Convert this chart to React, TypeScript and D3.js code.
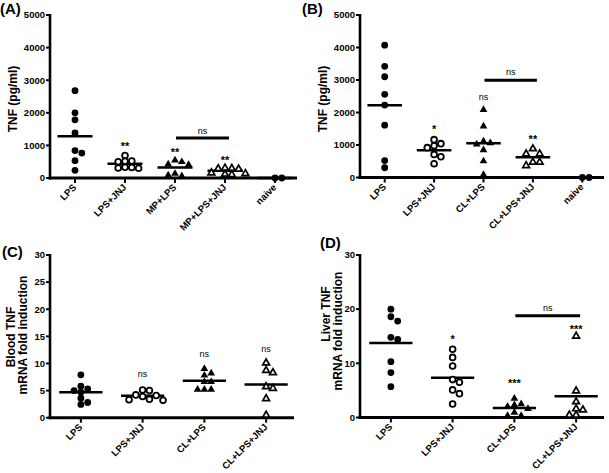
import React from "react";
import * as d3 from "d3";

const W = 609;
const H = 473;
const FONT = "'Liberation Sans', Arial, Helvetica, sans-serif";

// ---------- Panel A ----------
const catsA = ["LPS", "LPS+JNJ", "MP+LPS", "MP+LPS+JNJ", "naive"];
const lpsA = [2680, 1785, 2000, 1380, 840, 765, 530, 235];
const lpsJnjA = [690, 520, 510, 500, 330, 320, 310, 300];
const mpLpsA = [560, 510, 440, 420, 150, 80, 100];
const mpLpsJnjA = [320, 310, 300, 290, 170, 150, 130, 120];
const naiveA = [0, 0];
const ticksA = [0, 1000, 2000, 3000, 4000, 5000];
const marksA = [
  { cat: "LPS+JNJ", label: "**", at: 1050 },
  { cat: "MP+LPS", label: "**", at: 850 },
  { cat: "MP+LPS+JNJ", label: "**", at: 610 },
];
const barA = { from: "MP+LPS", to: "MP+LPS+JNJ", at: 1225, labelAt: 1437, label: "ns" };

// ---------- Panel B ----------
const catsB = ["LPS", "LPS+JNJ", "CL+LPS", "CL+LPS+JNJ", "naive"];
const lpsB = [4070, 3420, 3100, 2560, 2230, 1610, 520, 300];
const lpsJnjB = [1165, 1041, 979, 918, 711, 639, 423];
const clLpsB = [2100, 1590, 1130, 1080, 1040, 860, 520, 100];
const clLpsJnjB = [900, 742, 742, 485, 485, 381];
const naiveB = [0, 0];
const ticksB = [0, 1000, 2000, 3000, 4000, 5000];
const marksB = [
  { cat: "LPS+JNJ", label: "*", at: 1567 },
  { cat: "CL+LPS", label: "ns", at: 2474 },
  { cat: "CL+LPS+JNJ", label: "**", at: 1237 },
];
const barB = { from: "CL+LPS", to: "CL+LPS+JNJ", at: 2990, labelAt: 3216, label: "ns" };

// ---------- Panel C ----------
const catsC = ["LPS", "LPS+JNJ", "CL+LPS", "CL+LPS+JNJ"];
const lpsC = [7.9, 5.8, 5.3, 5.0, 4.7, 3.6, 2.8, 2.45];
const lpsJnjC = [5.1, 5.0, 4.2, 4.1, 3.9, 3.4, 3.3, 3.2];
const clLpsC = [9.1, 8.3, 7.9, 6.7, 6.7, 5.3, 5.3, 5.3];
const clLpsJnjC = [10.2, 8.8, 8.4, 5.8, 5.5, 3.6, 0.55];
const ticksC = [0, 5, 10, 15, 20, 25, 30];
const marksC = [
  { cat: "LPS+JNJ", label: "ns", at: 7.9 },
  { cat: "CL+LPS", label: "ns", at: 11.6 },
  { cat: "CL+LPS+JNJ", label: "ns", at: 12.5 },
];

// ---------- Panel D ----------
const catsD = ["LPS", "LPS+JNJ", "CL+LPS", "CL+LPS+JNJ"];
const lpsD = [20.0, 18.6, 17.8, 14.8, 14.4, 10.3, 8.3, 5.7];
const lpsJnjD = [12.6, 11.1, 9.5, 7.0, 6.5, 5.1, 4.4, 2.5];
const clLpsD = [3.6, 2.6, 2.4, 2.1, 1.7, 1.0, 0.4, 0.4];
const clLpsJnjD = [15.1, 5.0, 3.0, 1.7, 1.5, 0.55, 0.55];
const ticksD = [0, 10, 20, 30];
const marksD = [
  { cat: "LPS+JNJ", label: "*", at: 14.8 },
  { cat: "CL+LPS", label: "***", at: 6.7 },
  { cat: "CL+LPS+JNJ", label: "***", at: 16.7 },
];
const barD = { from: "CL+LPS", to: "CL+LPS+JNJ", at: 18.8, labelAt: 20.1, label: "ns" };

const shapes5 = ["circle", "openCircle", "triangle", "openTriangle", "circle"];
const shapes4 = ["circle", "openCircle", "triangle", "openTriangle"];

type Mark = { cat: string; label: string; at: number };
type Bar = { from: string; to: string; at: number; labelAt: number; label: string };

type PanelProps = {
  letter: string;
  letterX: number;
  letterY: number;
  titleLines: { text: string; x: number; y: number }[];
  cats: string[];
  groups: number[][];
  shapes: string[];
  ticks: number[];
  yMax: number;
  x0: number;
  x1: number;
  yTop: number;
  yBottom: number;
  marks: Mark[];
  bar?: Bar;
};

const D = 6.8; // marker spacing

function dodge(vals: number[], y: (v: number) => number) {
  const placed: { x: number; y: number }[] = [];
  return vals.map((v) => {
    const py = y(v);
    const cands = [0, 1, -1, 2, -2, 3, -3];
    for (const k of cands) {
      const px = k * D;
      if (placed.every((p) => Math.hypot(p.x - px, p.y - py) >= D * 0.85)) {
        placed.push({ x: px, y: py });
        return { v, dx: px, y: py };
      }
    }
    placed.push({ x: 0, y: py });
    return { v, dx: 0, y: py };
  });
}

const triFilled = d3.symbol().type(d3.symbolTriangle).size(26)() as string;
const triOpen = d3.symbol().type(d3.symbolTriangle).size(20)() as string;

function Marker({ shape, x, y }: { shape: string; x: number; y: number }) {
  if (shape === "circle") return <circle cx={x} cy={y} r={3.4} fill="#000" />;
  if (shape === "openCircle")
    return <circle cx={x} cy={y} r={2.9} fill="#fff" stroke="#000" strokeWidth={1.8} />;
  if (shape === "triangle") return <path d={triFilled} transform={`translate(${x},${y + 0.5})`} fill="#000" />;
  return (
    <path d={triOpen} transform={`translate(${x},${y + 0.5})`} fill="#fff" stroke="#000" strokeWidth={1.7} />
  );
}

function Panel(p: PanelProps) {
  const x = d3.scaleBand<string>().domain(p.cats).range([p.x0, p.x1]).paddingInner(0).paddingOuter(0);
  const y = d3.scaleLinear().domain([0, p.yMax]).range([p.yBottom, p.yTop]);
  const bw = x.bandwidth();
  const cx = (c: string) => (x(c) as number) + bw / 2;
  const half = bw * 0.35;

  return (
    <g fontFamily={FONT}>
      <text x={p.letterX} y={p.letterY} fontSize={15} fontWeight="bold">
        {p.letter}
      </text>
      {p.titleLines.map((t, i) => (
        <text
          key={i}
          transform={`translate(${t.x},${t.y}) rotate(-90)`}
          textAnchor="middle"
          fontSize={12}
          fontWeight="bold"
        >
          {t.text}
        </text>
      ))}
      {/* y axis */}
      <line x1={p.x0} x2={p.x0} y1={p.yTop - 1} y2={p.yBottom + 1.5} stroke="#000" strokeWidth={2.6} />
      {p.ticks.map((t) => (
        <g key={t}>
          <line x1={p.x0 - 4} x2={p.x0} y1={y(t)} y2={y(t)} stroke="#000" strokeWidth={2} />
          <text x={p.x0 - 5} y={y(t)} dy="0.35em" textAnchor="end" fontSize={9.5} fontWeight="bold">
            {t}
          </text>
        </g>
      ))}
      {/* x axis */}
      <line x1={p.x0 - 1.3} x2={p.x1 - 3} y1={p.yBottom} y2={p.yBottom} stroke="#000" strokeWidth={3} />
      {p.cats.map((c) => (
        <g key={c}>
          <line x1={cx(c)} x2={cx(c)} y1={p.yBottom} y2={p.yBottom + 5} stroke="#000" strokeWidth={2} />
          <text
            transform={`translate(${cx(c) + 2},${p.yBottom + 10}) rotate(-45)`}
            textAnchor="end"
            fontSize={9.5}
            fontWeight="bold"
          >
            {c}
          </text>
        </g>
      ))}
      {/* groups */}
      {p.cats.map((c, gi) => {
        const vals = p.groups[gi];
        const m = d3.mean(vals) as number;
        const pts = dodge(vals, y);
        return (
          <g key={c}>
            <line x1={cx(c) - half} x2={cx(c) + half} y1={y(m)} y2={y(m)} stroke="#000" strokeWidth={2.5} />
            {pts.map((pt, i) => (
              <Marker key={i} shape={p.shapes[gi]} x={cx(c) + pt.dx} y={pt.y} />
            ))}
          </g>
        );
      })}
      {/* significance marks */}
      {p.marks.map((mk, i) => {
        const isStar = mk.label.includes("*");
        const fs = isStar ? 11 : 9;
        return (
          <text
            key={i}
            x={cx(mk.cat)}
            y={y(mk.at) + (isStar ? 0.56 : 0.27) * fs}
            textAnchor="middle"
            fontSize={fs}
            fontWeight={isStar ? "bold" : "normal"}
          >
            {mk.label}
          </text>
        );
      })}
      {p.bar && (
        <g>
          <line
            x1={cx(p.bar.from) + 1}
            x2={cx(p.bar.to) + 4}
            y1={y(p.bar.at)}
            y2={y(p.bar.at)}
            stroke="#000"
            strokeWidth={3}
          />
          <text
            x={(cx(p.bar.from) + 1 + cx(p.bar.to) + 4) / 2}
            y={y(p.bar.labelAt) + 0.27 * 9}
            textAnchor="middle"
            fontSize={9}
          >
            {p.bar.label}
          </text>
        </g>
      )}
    </g>
  );
}

export default function App() {
  return (
    <svg
      width={W}
      height={H}
      viewBox={`0 0 ${W} ${H}`}
      style={{ position: "absolute", left: 0, top: 0, background: "#fff" }}
    >
      <rect width={W} height={H} fill="#fff" />
      <Panel
        letter="(A)"
        letterX={0}
        letterY={14}
        titleLines={[{ text: "TNF (pg/ml)", x: 17, y: 99 }]}
        cats={catsA}
        groups={[lpsA, lpsJnjA, mpLpsA, mpLpsJnjA, naiveA]}
        shapes={shapes5}
        ticks={ticksA}
        yMax={5000}
        x0={50}
        x1={300}
        yTop={15}
        yBottom={178}
        marks={marksA}
        bar={barA}
      />
      <Panel
        letter="(B)"
        letterX={302}
        letterY={14}
        titleLines={[{ text: "TNF (pg/ml)", x: 327, y: 99 }]}
        cats={catsB}
        groups={[lpsB, lpsJnjB, clLpsB, clLpsJnjB, naiveB]}
        shapes={shapes5}
        ticks={ticksB}
        yMax={5000}
        x0={360}
        x1={607}
        yTop={15}
        yBottom={177.5}
        marks={marksB}
        bar={barB}
      />
      <Panel
        letter="(C)"
        letterX={2}
        letterY={257}
        titleLines={[
          { text: "Blood TNF", x: 15, y: 337 },
          { text: "mRNA fold induction", x: 27, y: 335 },
        ]}
        cats={catsC}
        groups={[lpsC, lpsJnjC, clLpsC, clLpsJnjC]}
        shapes={shapes4}
        ticks={ticksC}
        yMax={30}
        x0={50}
        x1={297}
        yTop={255}
        yBottom={417.7}
        marks={marksC}
      />
      <Panel
        letter="(D)"
        letterX={320}
        letterY={248}
        titleLines={[
          { text: "Liver TNF", x: 330, y: 314 },
          { text: "mRNA fold induction", x: 342, y: 331 },
        ]}
        cats={catsD}
        groups={[lpsD, lpsJnjD, clLpsD, clLpsJnjD]}
        shapes={shapes4}
        ticks={ticksD}
        yMax={30}
        x0={360}
        x1={607}
        yTop={255}
        yBottom={417.5}
        marks={marksD}
        bar={barD}
      />
    </svg>
  );
}
